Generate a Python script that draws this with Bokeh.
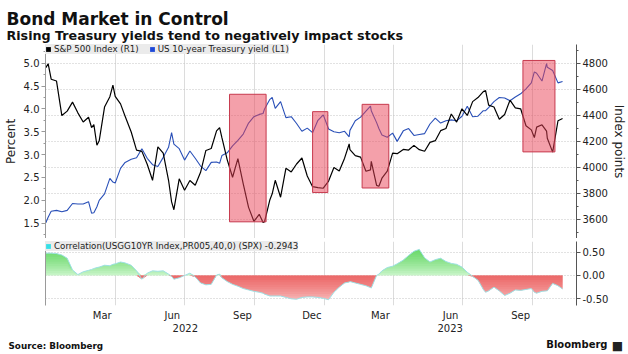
import numpy as np
import pandas as pd
from bokeh.plotting import figure
from bokeh.layouts import column
from bokeh.core.properties import value
from bokeh.models import (ColumnDataSource, Range1d, LinearAxis, DatetimeAxis, FixedTicker,
                          PrintfTickFormatter, DatetimeTickFormatter, Grid, Legend, LegendItem)
from bokeh.embed import file_html
from bokeh.resources import INLINE

# ---------------- data ----------------
price_dates = [
    "2021-12-31", "2022-01-03", "2022-01-07", "2022-01-14", "2022-01-21", "2022-01-28",
    "2022-02-04", "2022-02-11", "2022-02-18", "2022-02-25",
    "2022-03-01", "2022-03-04", "2022-03-08", "2022-03-11", "2022-03-18", "2022-03-25", "2022-03-29",
    "2022-04-01", "2022-04-08", "2022-04-14", "2022-04-22", "2022-04-29",
    "2022-05-06", "2022-05-13", "2022-05-20", "2022-05-27",
    "2022-06-03", "2022-06-10", "2022-06-14", "2022-06-17", "2022-06-24",
    "2022-07-01", "2022-07-08", "2022-07-15", "2022-07-22", "2022-07-29",
    "2022-08-05", "2022-08-12", "2022-08-16", "2022-08-19", "2022-08-26",
    "2022-09-02", "2022-09-09", "2022-09-16", "2022-09-23", "2022-09-30",
    "2022-10-07", "2022-10-12", "2022-10-14", "2022-10-21", "2022-10-24", "2022-10-28",
    "2022-11-04", "2022-11-11", "2022-11-18", "2022-11-25",
    "2022-12-02", "2022-12-09", "2022-12-16", "2022-12-23", "2022-12-30",
    "2023-01-06", "2023-01-13", "2023-01-20", "2023-01-27",
    "2023-02-02", "2023-02-03", "2023-02-10", "2023-02-17", "2023-02-24",
    "2023-03-02", "2023-03-03", "2023-03-10", "2023-03-13", "2023-03-17", "2023-03-24", "2023-03-31",
    "2023-04-06", "2023-04-14", "2023-04-21", "2023-04-28",
    "2023-05-05", "2023-05-12", "2023-05-19", "2023-05-26",
    "2023-06-02", "2023-06-09", "2023-06-16", "2023-06-23", "2023-06-30",
    "2023-07-07", "2023-07-14", "2023-07-21", "2023-07-28", "2023-07-31",
    "2023-08-04", "2023-08-11", "2023-08-18", "2023-08-25",
    "2023-09-01", "2023-09-08", "2023-09-15", "2023-09-22", "2023-09-29",
    "2023-10-03", "2023-10-06", "2023-10-13", "2023-10-19", "2023-10-20", "2023-10-27",
    "2023-11-03", "2023-11-09",
]

spx = [
    4766, 4796, 4677, 4663, 4398, 4432,
    4501, 4419, 4349, 4385,
    4306, 4329, 4170, 4204, 4463, 4543, 4632,
    4546, 4488, 4393, 4272, 4132,
    4123, 4024, 3901, 4158,
    4109, 3901, 3735, 3675, 3912,
    3825, 3899, 3863, 3962, 4130,
    4145, 4280, 4305, 4228, 4058,
    3924, 4067, 3873, 3693, 3586,
    3640, 3577, 3583, 3752, 3797, 3901,
    3771, 3993, 3965, 4026,
    4072, 3934, 3852, 3845, 3840,
    3895, 3999, 3973, 4071,
    4180, 4136, 4090, 4079, 3970,
    3981, 4046, 3862, 3855, 3917, 3971, 4109,
    4105, 4138, 4133, 4169,
    4136, 4124, 4192, 4205,
    4282, 4299, 4410, 4348, 4450,
    4399, 4505, 4536, 4582, 4589,
    4478, 4464, 4370, 4406,
    4516, 4457, 4450, 4320, 4288,
    4229, 4309, 4327, 4278, 4224, 4117,
    4358, 4375,
]

ust10y = [
    1.51, 1.63, 1.76, 1.78, 1.75, 1.78,
    1.93, 1.92, 1.92, 1.97,
    1.72, 1.73, 1.86, 2.00, 2.14, 2.48, 2.40,
    2.38, 2.70, 2.83, 2.90, 2.93,
    3.13, 2.92, 2.78, 2.74,
    2.94, 3.16, 3.48, 3.23, 3.13,
    2.88, 3.08, 2.92, 2.75, 2.65,
    2.83, 2.84, 2.81, 2.98, 3.04,
    3.19, 3.31, 3.45, 3.69, 3.83,
    3.88, 3.90, 4.00, 4.21, 4.25, 4.01,
    4.16, 3.81, 3.83, 3.68,
    3.51, 3.58, 3.48, 3.75, 3.87,
    3.56, 3.50, 3.48, 3.51,
    3.39, 3.53, 3.74, 3.82, 3.95,
    4.06, 3.96, 3.70, 3.57, 3.43, 3.38, 3.47,
    3.29, 3.52, 3.57, 3.42,
    3.44, 3.46, 3.67, 3.80,
    3.69, 3.74, 3.76, 3.74, 3.84,
    4.06, 3.83, 3.84, 3.96, 3.96,
    4.03, 4.16, 4.25, 4.24,
    4.18, 4.26, 4.33, 4.44, 4.57,
    4.81, 4.78, 4.61, 4.99, 4.91, 4.84,
    4.57, 4.60,
]

correlation = [
    0.48, 0.48, 0.48, 0.47, 0.44, 0.37,
    0.12, 0.02, 0.08, 0.11,
    0.13, 0.15, 0.17, 0.18, 0.22, 0.21, 0.24,
    0.25, 0.29, 0.27, 0.22, 0.10,
    -0.08, 0.05, 0.10, 0.09,
    0.10, 0.03, -0.02, -0.08, -0.05,
    0.00, 0.05, -0.03, -0.16, -0.20,
    -0.19, 0.01, 0.03, -0.05, -0.13,
    -0.19, -0.23, -0.28, -0.31, -0.34,
    -0.36, -0.38, -0.40, -0.44, -0.44, -0.44,
    -0.44, -0.47, -0.50, -0.51,
    -0.47, -0.46, -0.46, -0.47, -0.49,
    -0.52, -0.36, -0.25, -0.16,
    -0.14, -0.13, -0.16, -0.19, -0.22,
    -0.26, -0.27, 0.00, 0.03, 0.10, 0.17, 0.20,
    0.25, 0.33, 0.43, 0.52,
    0.56, 0.38, 0.29, 0.34,
    0.37, 0.30, 0.26, 0.24, 0.18,
    0.07, -0.02, -0.10, -0.30, -0.36,
    -0.33, -0.25, -0.33, -0.43,
    -0.38, -0.31, -0.32, -0.30, -0.28,
    -0.36, -0.38, -0.34, -0.33, -0.33, -0.17,
    -0.22, -0.29,
]

# highlighted periods (percent units of the left axis)
rect_start = ["2022-08-29", "2022-12-16", "2023-02-19", "2023-09-18"]
rect_end = ["2022-10-16", "2023-01-05", "2023-03-26", "2023-10-30"]
rect_top = [4.32, 3.94, 4.10, 5.06]
rect_bottom = [1.53, 2.17, 2.27, 3.06]

pct_ticks = [1.5, 2.0, 2.5, 3.0, 3.5, 4.0, 4.5, 5.0]
pct_minor = [1.25, 1.75, 2.25, 2.75, 3.25, 3.75, 4.25, 4.75, 5.25]
spx_ticks = [3600, 3800, 4000, 4200, 4400, 4600, 4800]
spx_minor = [3500, 3700, 3900, 4100, 4300, 4500, 4700, 4900]
corr_ticks = [-0.5, 0.0, 0.5]
month_ticks = ["2022-03-15", "2022-06-15", "2022-09-15", "2022-12-15",
               "2023-03-15", "2023-06-15", "2023-09-15"]
year_ticks = ["2022-07-02", "2023-06-14 12:00"]
quarter_lines = ["2022-04-01", "2022-07-01", "2022-10-01", "2023-01-01",
                 "2023-04-01", "2023-07-01", "2023-10-01"]

title = "Bond Market in Control"
subtitle = "Rising Treasury yields tend to negatively impact stocks"
source_note = "Source: Bloomberg"
brand = "Bloomberg"

# ---------------- helpers ----------------
FONT = "DejaVu Sans"
TXT = "#222222"
W = 628


def ms(s):
    return int(pd.Timestamp(s).value // 10**6)


x_start, x_end = ms("2021-12-30 13:00"), ms("2023-11-27 07:00")
dates = pd.to_datetime(price_dates)
src = ColumnDataSource(dict(date=dates, spx=spx, y10=ust10y, corr=correlation))
rsrc = ColumnDataSource(dict(left=pd.to_datetime(rect_start), right=pd.to_datetime(rect_end),
                             top=rect_top, bottom=rect_bottom))
NAN = [float("nan")]


def base_fig(height, y_range, top, bottom):
    p = figure(width=W, height=height, output_backend="svg", toolbar_location=None,
               x_axis_type=None, y_axis_type=None,
               x_range=Range1d(x_start, x_end), y_range=y_range,
               min_border_left=45, min_border_right=51,
               min_border_top=top, min_border_bottom=bottom,
               outline_line_color=None, background_fill_color="white",
               border_fill_color="white")
    p.add_layout(Grid(dimension=0, ticker=FixedTicker(ticks=[ms(d) for d in quarter_lines]),
                      grid_line_color="#dcdcdc", grid_line_width=1))
    return p


def text_fig(height):
    # plain strip whose pixel grid is its data grid (y grows downwards)
    return figure(width=W, height=height, output_backend="svg", toolbar_location=None,
                  x_axis_type=None, y_axis_type=None,
                  x_range=Range1d(0, W), y_range=Range1d(height, 0),
                  min_border_left=0, min_border_right=0, min_border_top=0, min_border_bottom=0,
                  outline_line_color=None, background_fill_color="white",
                  border_fill_color="white", frame_align=False)


def style_axis(ax, size="10px"):
    ax.major_label_text_font = FONT
    ax.major_label_text_font_size = size
    ax.major_label_text_color = TXT
    ax.axis_label_text_font = FONT
    ax.axis_label_text_font_size = "12px"
    ax.axis_label_text_font_style = "normal"
    ax.axis_label_text_color = TXT
    return ax


def fmt(f):
    return DatetimeTickFormatter(microseconds=f, milliseconds=f, seconds=f, minsec=f,
                                 minutes=f, hourmin=f, hours=f, days=f, months=f, years=f)


def make_legend(items):
    return Legend(items=items, location="top_left", orientation="horizontal",
                  margin=0, padding=3, spacing=10, glyph_width=6, glyph_height=6,
                  label_standoff=3, label_height=10, label_text_font=FONT,
                  label_text_font_size="8.7px", label_text_color=TXT,
                  background_fill_color="#ebebeb", background_fill_alpha=1.0,
                  border_line_color=None)


# ---------------- header ----------------
head = text_fig(44)
head.text(x=[6], y=[18], text=[title], text_font=value(FONT), text_font_style="bold",
          text_font_size=value("17px"), text_baseline="alphabetic", text_color="#111111")
head.text(x=[6], y=[35], text=[subtitle], text_font=value(FONT), text_font_style="bold",
          text_font_size=value("12.7px"), text_baseline="alphabetic", text_color="#111111")

# ---------------- top panel ----------------
p1 = base_fig(194, Range1d(1.165, 5.409), 0, 0)
p1.extra_y_ranges = {"spx": Range1d(3454, 4943.6)}
p1.add_layout(Grid(dimension=1, y_range_name="spx", ticker=FixedTicker(ticks=spx_ticks),
                   grid_line_color="#c4c4c4", grid_line_dash="1 2"))

p1.line("date", "y10", source=src, line_color="#2a50b8", line_width=1.1)
p1.line("date", "spx", source=src, y_range_name="spx", line_color="black", line_width=1.2)
p1.quad(left="left", right="right", top="top", bottom="bottom", source=rsrc,
        fill_color="#e94155", fill_alpha=0.5, line_color="#c73a4e", line_width=1)

lg_spx = p1.quad(left=NAN, right=NAN, top=NAN, bottom=NAN, fill_color="black", line_color=None)
lg_y10 = p1.quad(left=NAN, right=NAN, top=NAN, bottom=NAN, fill_color="#1d48d8", line_color=None)
p1.add_layout(make_legend([LegendItem(label="S&P 500 Index (R1)", renderers=[lg_spx]),
                           LegendItem(label="US 10-year Treasury yield (L1)", renderers=[lg_y10])]))

ax_l = style_axis(LinearAxis(ticker=FixedTicker(ticks=pct_ticks, minor_ticks=pct_minor),
                             formatter=PrintfTickFormatter(format="%.1f"),
                             axis_label="Percent"))
ax_l.major_tick_in = 0
ax_l.major_tick_out = 4
ax_l.minor_tick_in = 0
ax_l.minor_tick_out = 2
ax_l.major_label_standoff = 2
ax_l.axis_label_standoff = 3
ax_l.axis_line_color = "#9a9a9a"
ax_l.major_tick_line_color = "#9a9a9a"
ax_l.minor_tick_line_color = "#9a9a9a"
p1.add_layout(ax_l, "left")

ax_r = style_axis(LinearAxis(y_range_name="spx",
                             ticker=FixedTicker(ticks=spx_ticks, minor_ticks=spx_minor),
                             formatter=PrintfTickFormatter(format="%d"),
                             axis_label="Index points"))
ax_r.major_tick_in = 0
ax_r.major_tick_out = 4
ax_r.minor_tick_in = 0
ax_r.minor_tick_out = 2
ax_r.major_label_standoff = 2
ax_r.axis_label_standoff = 1
ax_r.axis_line_color = "#555555"
ax_r.major_tick_line_color = "#555555"
ax_r.minor_tick_line_color = "#555555"
p1.add_layout(ax_r, "right")

# ---------------- separator ----------------
sep = figure(width=W, height=3, output_backend="svg", toolbar_location=None,
             x_axis_type=None, y_axis_type=None, x_range=Range1d(0, 1), y_range=Range1d(0, 1),
             min_border_left=7, min_border_right=5, min_border_top=0, min_border_bottom=0,
             outline_line_color=None, background_fill_color="#3b3b3b",
             border_fill_color="white", frame_align=False)

# ---------------- bottom panel ----------------
p2 = base_fig(93, Range1d(-0.6438, 0.7296), 0, 29)
p2.add_layout(Grid(dimension=1, ticker=FixedTicker(ticks=corr_ticks),
                   grid_line_color="#c4c4c4", grid_line_dash="1 2"))

c = np.array(correlation)
pos = np.clip(c, 0, None)
neg = np.clip(c, None, 0)
zero = np.zeros_like(c)
shade_levels = np.arange(0.05, 0.61, 0.05)

p2.varea(x=dates, y1=zero, y2=pos, fill_color="#c6f4c6")
for k in shade_levels:
    p2.varea(x=dates, y1=np.minimum(pos, k), y2=pos, fill_color="#29c429", fill_alpha=0.075)
p2.varea(x=dates, y1=neg, y2=zero, fill_color="#fcd6d6")
for k in shade_levels:
    p2.varea(x=dates, y1=np.maximum(neg, -k), y2=zero, fill_color="#ec3f3f", fill_alpha=0.085)
p2.line("date", "corr", source=src, line_color="#9ee0e4", line_width=1)

lg_c = p2.quad(left=NAN, right=NAN, top=NAN, bottom=NAN, fill_color="#35dfe6", line_color=None)
p2.add_layout(make_legend([LegendItem(label="Correlation(USGG10YR Index,PR005,40,0) (SPX) -0.2943",
                                      renderers=[lg_c])]))

ax_l2 = LinearAxis(ticker=FixedTicker(ticks=[]), axis_line_color="#9a9a9a",
                   major_tick_line_color=None, minor_tick_line_color=None)
p2.add_layout(ax_l2, "left")

ax_r2 = style_axis(LinearAxis(ticker=FixedTicker(ticks=corr_ticks),
                              formatter=PrintfTickFormatter(format="%.2f")))
ax_r2.major_tick_in = 0
ax_r2.major_tick_out = 4
ax_r2.minor_tick_line_color = None
ax_r2.major_label_standoff = 2
ax_r2.axis_line_color = "#555555"
ax_r2.major_tick_line_color = "#555555"
p2.add_layout(ax_r2, "right")

ax_m = style_axis(DatetimeAxis(ticker=FixedTicker(ticks=[ms(d) for d in month_ticks]),
                               formatter=fmt("%b")))
ax_y = style_axis(DatetimeAxis(ticker=FixedTicker(ticks=[ms(d) for d in year_ticks]),
                               formatter=fmt("%Y")))
for a, so in ((ax_m, 4), (ax_y, 0)):
    a.axis_line_color = None
    a.major_tick_line_color = None
    a.minor_tick_line_color = None
    a.major_tick_in = 0
    a.major_tick_out = 0
    a.minor_tick_in = 0
    a.minor_tick_out = 0
    a.major_label_standoff = so
p2.add_layout(ax_m, "below")
p2.add_layout(ax_y, "below")

# ---------------- footer ----------------
foot = text_fig(20)
foot.text(x=[8], y=[11], text=[source_note], text_font=value(FONT), text_font_style="bold",
          text_font_size=value("8.8px"), text_baseline="alphabetic", text_color="#111111")
foot.text(x=[607], y=[10], text=[brand], text_font=value(FONT), text_font_style="bold",
          text_font_size=value("10px"), text_align="right", text_baseline="alphabetic",
          text_color="#111111")
foot.text(x=[617], y=[11], text=["■"], text_font=value(FONT), text_font_size=value("12px"),
          text_align="center", text_baseline="alphabetic", text_color="#222222")

layout = column(head, p1, sep, p2, foot)
open("out.html", "w").write(file_html(layout, INLINE))
